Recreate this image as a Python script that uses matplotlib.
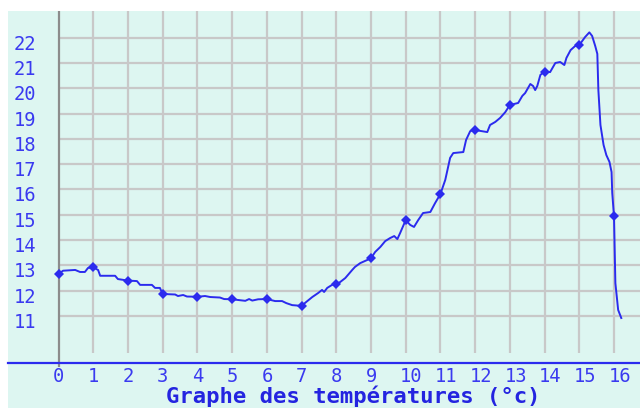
import matplotlib
matplotlib.use("Agg")
import matplotlib.pyplot as plt
from matplotlib.patches import Rectangle
from matplotlib import transforms

# ---- data ----
hours = [0.00, 0.13, 0.48, 0.62, 0.76, 0.85, 1.00, 1.14, 1.20, 1.63, 1.71, 2.00,
         2.26, 2.35, 2.69, 2.78, 2.92, 3.00, 3.36, 3.44, 3.59, 3.70, 4.00, 4.22,
         4.37, 4.65, 4.77, 5.00, 5.38, 5.49, 5.58, 5.75, 6.00, 6.24, 6.44, 6.56,
         6.73, 7.00, 7.13, 7.31, 7.48, 7.59, 7.65, 7.74, 7.88, 8.00, 8.11, 8.26,
         8.46, 8.54, 8.69, 9.00, 9.12, 9.27, 9.41, 9.55, 9.67, 9.76, 9.84, 10.00,
         10.13, 10.24, 10.36, 10.50, 10.71, 10.85, 11.00, 11.14, 11.28, 11.37, 11.66,
         11.74, 11.86, 12.00, 12.35, 12.43, 12.58, 12.72, 12.87, 13.00, 13.24, 13.36,
         13.44, 13.59, 13.67, 13.73, 13.79, 13.88, 14.00, 14.16, 14.31, 14.45, 14.57,
         14.63, 14.75, 14.88, 15.00, 15.17, 15.29, 15.37, 15.46, 15.52, 15.55, 15.61,
         15.70, 15.78, 15.87, 15.93, 15.95, 16.00, 16.04, 16.12, 16.21]
temps = [12.66, 12.79, 12.82, 12.74, 12.74, 12.90, 12.92, 12.82, 12.59, 12.59, 12.46, 12.40,
         12.38, 12.23, 12.23, 12.11, 12.11, 11.87, 11.85, 11.79, 11.83, 11.77, 11.76, 11.79,
         11.75, 11.73, 11.67, 11.66, 11.60, 11.67, 11.61, 11.66, 11.67, 11.59, 11.59, 11.51,
         11.43, 11.40, 11.55, 11.75, 11.91, 12.03, 11.95, 12.11, 12.23, 12.26, 12.34, 12.50,
         12.82, 12.94, 13.09, 13.28, 13.53, 13.73, 13.96, 14.08, 14.16, 14.04, 14.28, 14.79,
         14.60, 14.52, 14.79, 15.07, 15.11, 15.47, 15.82, 16.38, 17.25, 17.44, 17.48,
         17.96, 18.31, 18.35, 18.27, 18.55, 18.67, 18.83, 19.06, 19.34, 19.42, 19.70,
         19.81, 20.17, 20.09, 19.93, 20.09, 20.53, 20.66, 20.64, 21.00, 21.04, 20.92,
         21.20, 21.51, 21.67, 21.71, 22.03, 22.21, 22.07, 21.67, 21.36, 19.93, 18.55,
         17.76, 17.36, 17.09, 16.69, 15.86, 14.95, 12.30, 11.24, 10.92]

mark_hours = list(range(0, 17))
mark_temps = [12.66, 12.92, 12.40, 11.87, 11.76, 11.66, 11.67, 11.40, 12.26, 13.28,
              14.79, 15.82, 18.35, 19.34, 20.66, 21.71, 14.95]

x_ticks = list(range(0, 17))
y_ticks = list(range(11, 23))
title = "Graphe des températures (°c)"

# ---- styling ----
W, H = 640, 408
bg = "#DDF6F1"
grid_c = "#C8C8C8"
blue = "#2B2BEE"
label_blue = "#3A3AF0"

fig = plt.figure(figsize=(W / 100, H / 100), dpi=100)
fig.patch.set_facecolor("white")
fig.patches.append(Rectangle((8 / W, 0), (W - 8) / W, (H - 11) / H,
                             transform=fig.transFigure, facecolor=bg,
                             edgecolor="none", zorder=-5))

ax_top_px, ax_bot_px = 11, 363
ax = fig.add_axes([8 / W, (H - ax_bot_px) / H, (W - 8) / W, (ax_bot_px - ax_top_px) / H])
ax.set_facecolor("none")
ax.set_zorder(2)

xs = 34.7   # px per hour
ys = 25.3   # px per degree
x0_px, y11_px = 58.5, 316
xmin = 0 - (x0_px - 8) / xs
xmax = 16 + (W - 614) / xs
ymin = 11 - (ax_bot_px - y11_px) / ys
ymax = 11 + (y11_px - ax_top_px) / ys
ax.set_xlim(xmin, xmax)
ax.set_ylim(ymin, ymax)

# grid
vgrid_bottom = 11 - (353 - y11_px) / ys
ax.vlines(x_ticks[1:], vgrid_bottom, ymax, colors=grid_c, linewidth=1.6, zorder=1)
ax.hlines(y_ticks, 0, xmax, colors=grid_c, linewidth=1.6, zorder=1)
ax.vlines([0], 11 - (367 - y11_px) / ys, ymax, colors="#8C8C8C", linewidth=1.6,
          zorder=2, clip_on=False)

# spines
for s in ("top", "right", "left"):
    ax.spines[s].set_visible(False)
ax.spines["bottom"].set_color(blue)
ax.spines["bottom"].set_linewidth(1.6)

# data
ax.plot(hours, temps, color=blue, linewidth=1.4, zorder=3)
ax.plot(mark_hours, mark_temps, linestyle="none", marker="D", markersize=5,
        color=blue, markeredgewidth=0, zorder=4)

# ticks
mono = "DejaVu Sans Mono"
ax.set_xticks(x_ticks)
ax.set_xticklabels([str(v) for v in x_ticks], fontfamily=mono, fontsize=13.5,
                   color=label_blue, ha="left")
ax.set_yticks(y_ticks)
ax.set_yticklabels([str(v) for v in y_ticks], fontfamily=mono, fontsize=13.5,
                   color=label_blue, ha="right")
ax.tick_params(axis="x", length=0, pad=3)
ax.tick_params(axis="y", length=0, pad=-20.5)
for lab in ax.get_xticklabels():
    lab.set_transform(lab.get_transform() +
                      transforms.ScaledTranslation(-5.5 / 100, 0, fig.dpi_scale_trans))
for lab in ax.get_yticklabels():
    lab.set_transform(lab.get_transform() +
                      transforms.ScaledTranslation(0, -4.5 / 100, fig.dpi_scale_trans))

fig.text(353 / W, (H - 396.5) / H, title, ha="center", va="center",
         fontfamily=mono, fontweight="bold", fontsize=16, color="#2424E0")

fig.savefig("out.png", dpi=100, facecolor=fig.get_facecolor())
